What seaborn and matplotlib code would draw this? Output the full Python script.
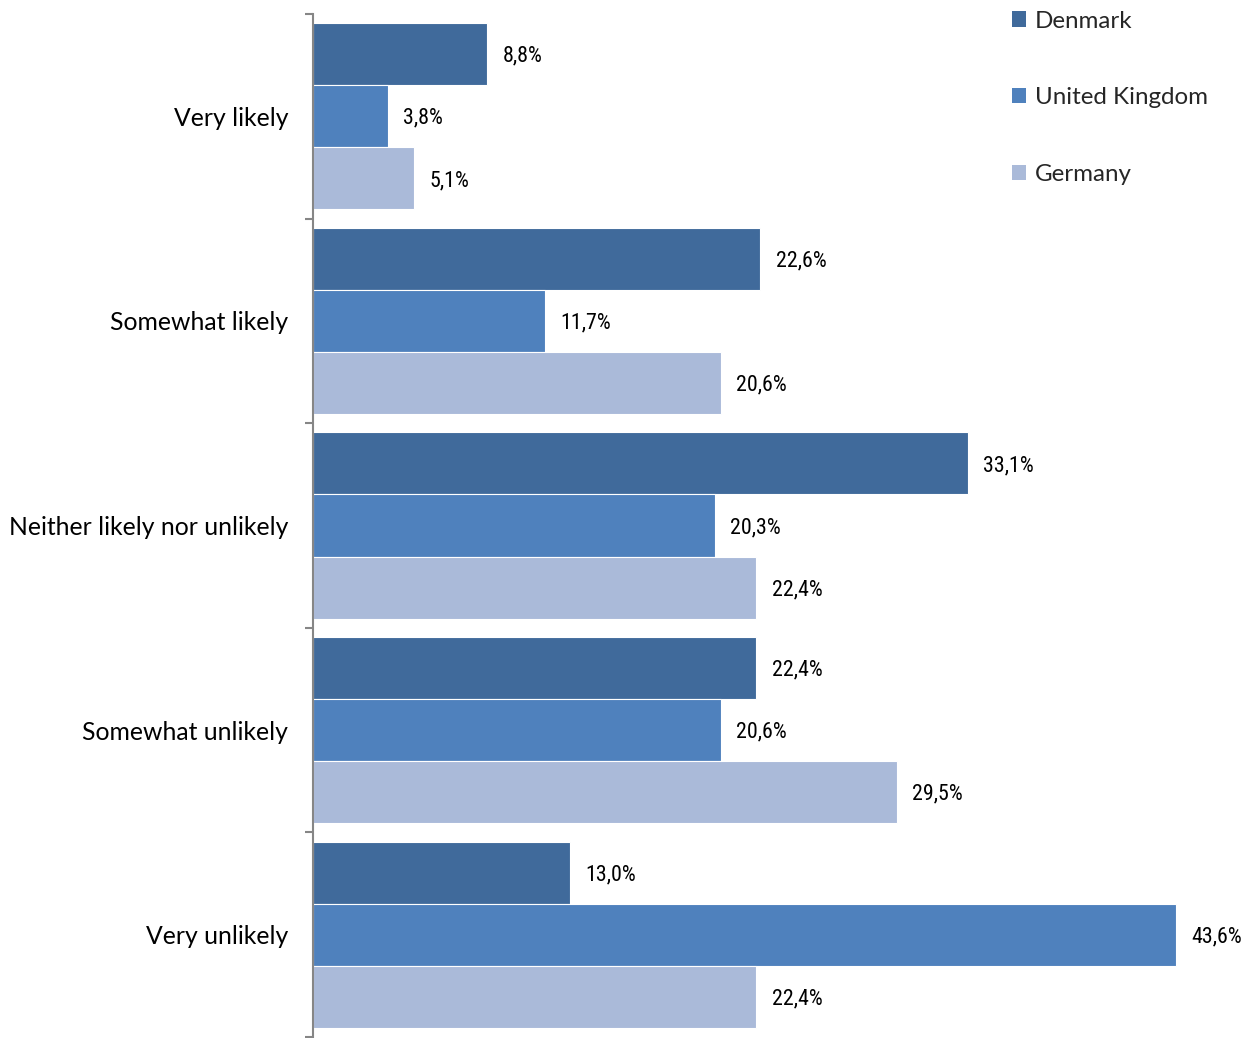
import matplotlib
matplotlib.use("Agg")
import matplotlib.pyplot as plt
import matplotlib.patches as mpatches
from matplotlib import font_manager
import seaborn as sns
import pandas as pd
import numpy as np

categories = ["Very likely", "Somewhat likely", "Neither likely nor unlikely",
              "Somewhat unlikely", "Very unlikely"]
countries = ["Denmark", "United Kingdom", "Germany"]
denmark = [8.8, 22.6, 33.1, 22.4, 13.0]
united_kingdom = [3.8, 11.7, 20.3, 20.6, 43.6]
germany = [5.1, 20.6, 22.4, 29.5, 22.4]
colors = ["#406A9B", "#4F81BD", "#AABAD9"]

df = pd.DataFrame({
    "category": categories * 3,
    "country": np.repeat(countries, len(categories)),
    "value": denmark + united_kingdom + germany,
})


def narrow_font():
    """Pick a narrow sans face for the value labels."""
    entries = font_manager.fontManager.ttflist
    names = {f.name for f in entries}
    for fam in ["Liberation Sans Narrow", "Arial Narrow"]:
        if fam in names:
            return dict(family=fam, fontsize=15)
    if "Roboto Condensed" in names:
        return dict(family="Roboto Condensed", fontsize=15.8)
    for f in entries:
        if f.name == "DejaVu Sans" and "Condensed" in f.fname and "Bold" not in f.fname \
                and "Oblique" not in f.fname:
            return dict(family="DejaVu Sans", fontstretch="condensed", fontsize=14.5)
    return dict(family="Liberation Sans", fontsize=13)


sns.set_theme(style="white")
plt.rcParams["font.family"] = ["Lato", "DejaVu Sans"]

fig = plt.figure(figsize=(12.54, 10.38), dpi=100)
W, H = 1254, 1038
ax = fig.add_axes([313 / W, 1 - 1037 / H, (W - 313) / W, (1037 - 14) / H])

sns.barplot(data=df, y="category", x="value", hue="country", order=categories,
            hue_order=countries, palette=colors, orient="h", width=0.91,
            edgecolor="white", linewidth=0.8, saturation=1, legend=False, ax=ax)

ax.set_xlim(0, (W - 313) / 19.79)
ax.set_ylim(4.5, -0.5)
ax.set_xlabel("")
ax.set_ylabel("")
ax.set_xticks([])

for s in ["top", "right", "bottom"]:
    ax.spines[s].set_visible(False)
ax.spines["left"].set_color("#868686")
ax.spines["left"].set_linewidth(1.5)

ax.set_yticks(range(len(categories)))
ax.set_yticklabels(categories, fontsize=17.8, color="black")
ax.tick_params(axis="y", which="major", length=0, pad=18)
ax.set_yticks(np.arange(-0.5, len(categories), 1.0), minor=True)
ax.tick_params(axis="y", which="minor", length=6, width=1.5, color="#868686", left=True)

label_font = narrow_font()
for cont in ax.containers:
    labels = [f"{b.get_width():.1f}%".replace(".", ",") for b in cont]
    texts = ax.bar_label(cont, labels=labels, padding=11, color="black", **label_font)
    for t in texts:
        x0, y0 = t.get_position()
        t.set_position((x0, y0 - 1.5))

handles = [mpatches.Patch(facecolor=c, edgecolor="none", label=n)
           for c, n in zip(colors, countries)]
fig.legend(handles=handles, loc="upper left", bbox_to_anchor=(1002 / W, 1 - 1 / H),
           frameon=False, fontsize=17.4, handlelength=0.6, handleheight=0.6,
           handletextpad=0.35, labelspacing=2.3, borderaxespad=0)

fig.savefig("out.png", dpi=100)
